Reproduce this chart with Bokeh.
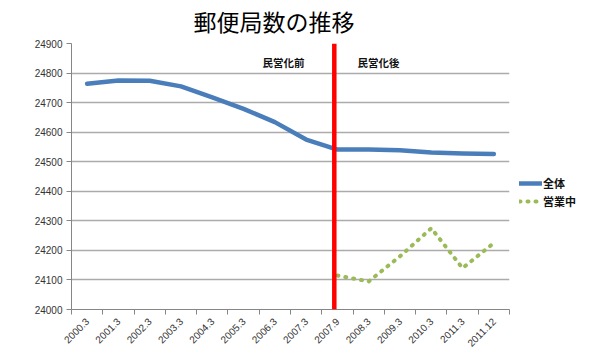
import numpy as np
from bokeh.plotting import figure
from bokeh.models import (Range1d, FixedTicker, Span, Legend, LegendItem, Label)
from bokeh.embed import file_html
from bokeh.resources import INLINE

# ---- data ----
periods = ["2000.3", "2001.3", "2002.3", "2003.3", "2004.3", "2005.3", "2006.3",
           "2007.3", "2007.9", "2008.3", "2009.3", "2010.3", "2011.3", "2011.12"]
total = [24764, 24775, 24774, 24755, 24718, 24679, 24634, 24575, 24541,
         24541, 24539, 24531, 24528, 24526]
open_periods = ["2007.9", "2008.3", "2009.3", "2010.3", "2011.3", "2011.12"]
open_counts = [24115, 24095, 24180, 24275, 24140, 24225]
y_ticks = [24000, 24100, 24200, 24300, 24400, 24500, 24600, 24700, 24800, 24900]

title_text = "郵便局数の推移"
series_names = ["全体", "営業中"]
before_label = "民営化前"
after_label = "民営化後"

# ---- layout / style ----
JP = "Noto Sans CJK JP"
idx = {c: i for i, c in enumerate(periods)}
x_total = [idx[c] for c in periods]
x_open = [idx[c] for c in open_periods]

p = figure(width=600, height=357, frame_width=438, frame_height=266,
           output_backend="svg", toolbar_location=None,
           x_range=Range1d(-0.5, len(periods) - 0.5),
           y_range=Range1d(y_ticks[0], y_ticks[-1]),
           min_border_left=71, min_border_right=91, min_border_top=43,
           min_border_bottom=48)
p.outline_line_color = None
p.background_fill_color = "white"
p.border_fill_color = "white"

p.title.text = title_text
p.title.text_font = JP
p.title.text_font_size = "23px"
p.title.text_font_style = "normal"
p.title.text_color = "#000000"
p.title.align = "left"
p.title.vertical_align = "top"
p.title.offset = 122
p.title.standoff = 7

# axes
p.xaxis.ticker = FixedTicker(ticks=x_total,
                             minor_ticks=[i - 0.5 for i in range(len(periods) + 1)])
p.xaxis.major_label_overrides = {i: lab for i, lab in enumerate(periods)}
p.xaxis.major_label_orientation = np.pi / 4
p.xaxis.minor_tick_out = 5
p.xaxis.minor_tick_in = 0
p.xaxis.minor_tick_line_color = "#868686"
p.yaxis.ticker = FixedTicker(ticks=y_ticks, minor_ticks=[])
p.yaxis.major_tick_out = 5
p.yaxis.major_tick_in = 0
for ax in (p.xaxis, p.yaxis):
    ax.axis_line_color = "#868686"
    ax.major_label_text_font = "Liberation Sans"
    ax.major_label_text_font_size = "10px"
    ax.major_label_text_color = "#333333"
    ax.major_label_standoff = 4
p.yaxis.major_tick_line_color = "#868686"
p.xaxis.major_tick_line_color = None
p.xgrid.grid_line_color = None
p.ygrid.grid_line_color = "#ababab"
p.ygrid.grid_line_width = 1.5

# series
r_total = p.line(x_total, total, line_color="#4a7ebb", line_width=4.5,
                 line_join="round", line_cap="round")
r_open = p.line(x_open, open_counts, line_color="#9bbb59", line_width=4,
                line_dash="1 7", line_cap="round")

# privatization divider
divider_x = idx["2007.9"] - 0.1
p.add_layout(Span(location=divider_x, dimension="height",
                  line_color="#ff0000", line_width=4.5))

label_y = 24837
for lx, txt in ((6.28, before_label), (9.31, after_label)):
    p.add_layout(Label(x=lx, y=label_y, text=txt, text_font=JP,
                       text_font_size="10.5px", text_font_style="bold",
                       text_align="center", text_baseline="middle",
                       text_color="#111111"))

legend = Legend(items=[LegendItem(label=series_names[0], renderers=[r_total]),
                       LegendItem(label=series_names[1], renderers=[r_open])],
                location=(10, 99), padding=0, margin=0, spacing=0,
                glyph_width=23, glyph_height=18, label_height=18,
                label_standoff=1, label_text_font=JP,
                label_text_font_size="11px", label_text_font_style="bold",
                label_text_color="#111111",
                background_fill_alpha=0, border_line_color=None)
p.add_layout(legend, "right")

open("out.html", "w").write(file_html(p, INLINE))
